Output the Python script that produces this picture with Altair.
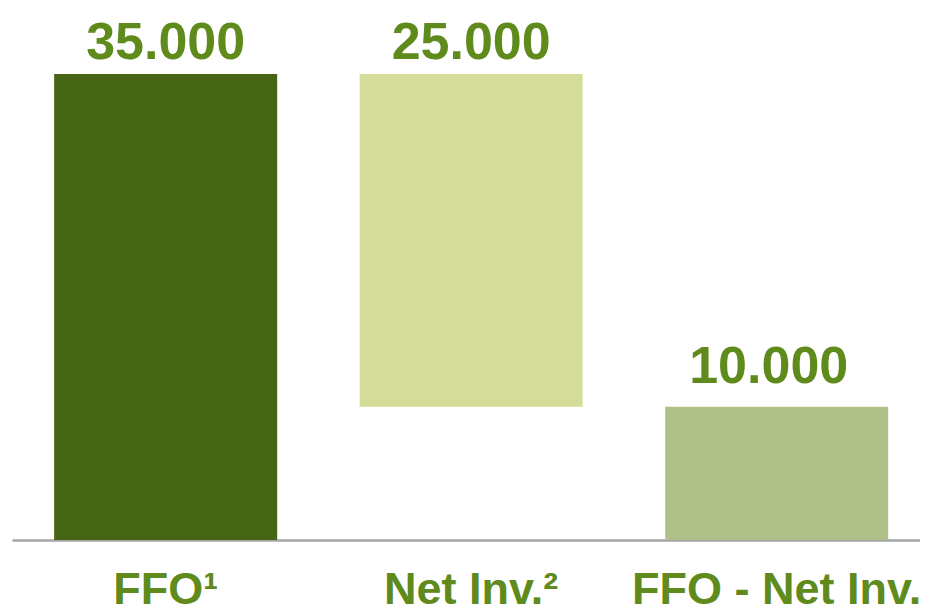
import altair as alt
import pandas as pd

# Data
categories = ["FFO¹", "Net Inv.²", "FFO - Net Inv."]
values = [35000, 25000, 10000]
value_labels = ["35.000", "25.000", "10.000"]
kinds = ["total", "decrease", "result"]

starts = [0, values[0] - values[1], 0]
ends = [values[0], values[0], values[2]]

df = pd.DataFrame({
    "category": categories,
    "start": starts,
    "end": ends,
    "label": value_labels,
    "kind": kinds,
})

FONT = "Liberation Sans"
TEXT_GREEN = "#5f8a1c"

x_enc = alt.X(
    "category:N",
    sort=categories,
    scale=alt.Scale(paddingInner=0.27, paddingOuter=0.121, align=0.57),
    axis=alt.Axis(
        title=None,
        labelAngle=0,
        ticks=False,
        tickSize=0,
        grid=False,
        domainColor="#a5a5a5",
        domainWidth=2.5,
        labelFont=FONT,
        labelFontSize=45,
        labelFontWeight="bold",
        labelColor=TEXT_GREEN,
        labelBaseline="alphabetic",
        labelPadding=63,
        labelLimit=0,
        labelOverlap=False,
        labelBound=False,
        labelFlush=False,
    ),
)

y_scale = alt.Scale(domain=[0, 35000], nice=False, zero=True)

base = alt.Chart(df)

bars = base.mark_bar().encode(
    x=x_enc,
    y=alt.Y("start:Q", scale=y_scale, axis=None),
    y2="end:Q",
    color=alt.Color(
        "kind:N",
        scale=alt.Scale(
            domain=["total", "decrease", "result"],
            range=["#466615", "#d5dc99", "#afc189"],
        ),
        legend=None,
    ),
)

label_style = dict(
    font=FONT,
    fontSize=52,
    fontWeight="bold",
    color=TEXT_GREEN,
    baseline="alphabetic",
    align="center",
)

labels_top = base.transform_filter(
    alt.datum.kind != "result"
).mark_text(dy=-15, **label_style).encode(
    x=alt.X("category:N", sort=categories),
    y=alt.Y("end:Q", scale=y_scale),
    text="label:N",
)

labels_result = base.transform_filter(
    alt.datum.kind == "result"
).mark_text(dy=-24, dx=-8, **label_style).encode(
    x=alt.X("category:N", sort=categories),
    y=alt.Y("end:Q", scale=y_scale),
    text="label:N",
)

chart = (
    alt.layer(bars, labels_top, labels_result)
    .properties(
        width=908,
        height=466,
        padding={"left": 4, "right": 0, "top": 66, "bottom": 72},
        autosize=alt.AutoSizeParams(type="none"),
        background="white",
    )
    .configure_view(stroke=None)
)

chart.save("out.html", embed_options={"renderer": "svg", "actions": False})
